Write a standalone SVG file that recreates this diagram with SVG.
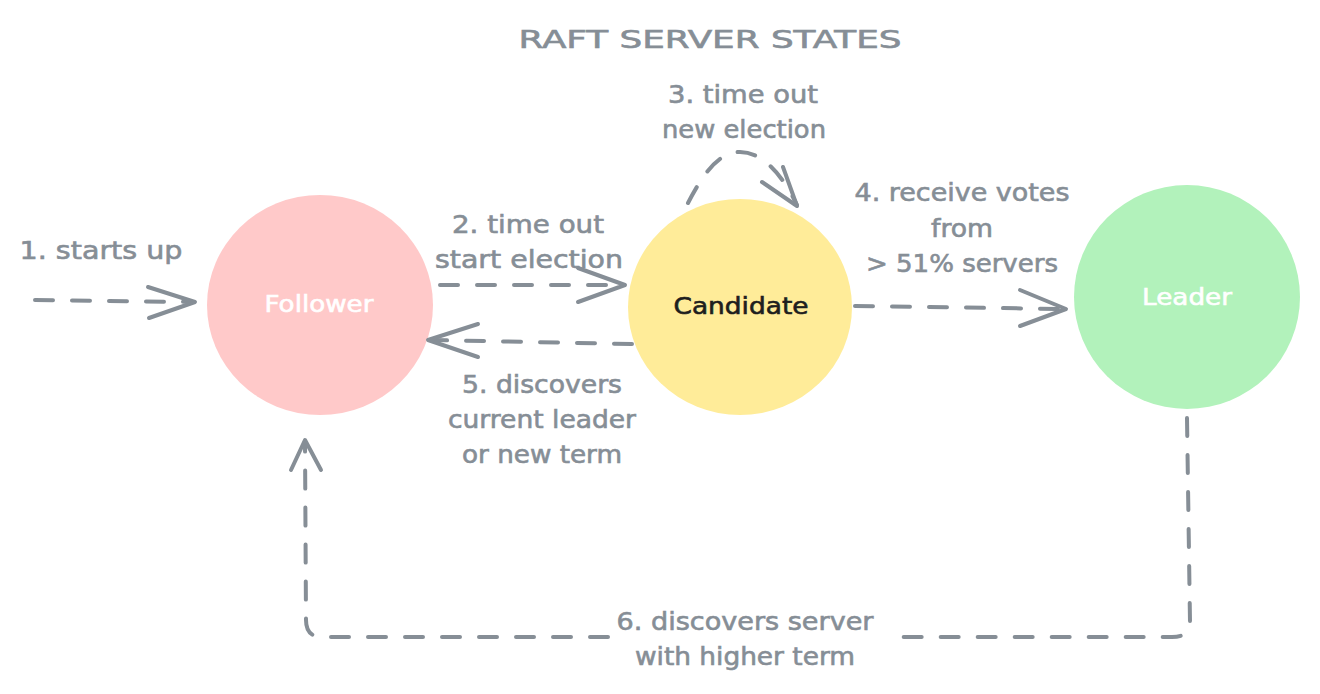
<svg xmlns="http://www.w3.org/2000/svg" width="1320" height="694" viewBox="0 0 1320 694">
<style>
.lbl{font-family:"DejaVu Sans","Liberation Sans",sans-serif;font-size:24px;fill:#868e96;stroke:#868e96;stroke-width:0.6;text-anchor:middle}
.node{font-family:"DejaVu Sans","Liberation Sans",sans-serif;font-size:23px;stroke-width:0.6;text-anchor:middle}
.ln{fill:none;stroke:#868e96;stroke-width:4;stroke-linecap:round;stroke-linejoin:round}
.dash{stroke-dasharray:18 19}
</style>
<rect width="1320" height="694" fill="#ffffff"/>
<text x="710" y="48" class="lbl" font-size="28" stroke-width="1" textLength="383" lengthAdjust="spacingAndGlyphs">RAFT SERVER STATES</text>
<g id="follower">
<ellipse cx="320" cy="305" rx="113" ry="110" fill="#ffc9c9"/>
<text x="319" y="312" class="node" fill="#ffffff" stroke="#ffffff" textLength="109" lengthAdjust="spacingAndGlyphs">Follower</text>
</g>
<g id="candidate">
<ellipse cx="740" cy="307" rx="112" ry="108" fill="#ffec99"/>
<text x="741" y="314" class="node" fill="#1e1e1e" stroke="#1e1e1e" textLength="135" lengthAdjust="spacingAndGlyphs">Candidate</text>
</g>
<g id="leader">
<ellipse cx="1187" cy="297" rx="113" ry="112" fill="#b2f2bb"/>
<text x="1187" y="305" class="node" fill="#ffffff" stroke="#ffffff" textLength="90" lengthAdjust="spacingAndGlyphs">Leader</text>
</g>
<g id="connectors">
<path class="ln dash" d="M35 300 L193 302"/>
<path class="ln" d="M148 287 L195 302 L149 318"/>
<path class="ln dash" d="M440 285 L623 285"/>
<path class="ln" d="M578 268 L625 285 L578 302"/>
<path class="ln dash" d="M632 344 L430 340"/>
<path class="ln" d="M478 324 L428 340 L478 357"/>
<path class="ln dash" d="M688 203 C705 170 720 152 740 152 C765 152 785 180 797 205"/>
<path class="ln" d="M762 182 L797 206 L783 167"/>
<path class="ln dash" d="M855 306 L1064 309"/>
<path class="ln" d="M1020 290 L1066 309 L1020 326"/>
<path class="ln dash" d="M1187 418 L1190 622 Q1190 637 1172 637 L887 637"/>
<path class="ln dash" d="M608 637 L322 637 Q306 637 306 620 L305 442"/>
<path class="ln" d="M291 470 L305 440 L321 470"/>
</g>
<g id="labels">
<text x="101" y="259" class="lbl" textLength="163" lengthAdjust="spacingAndGlyphs">1. starts up</text>
<text x="528" y="233" class="lbl" textLength="152" lengthAdjust="spacingAndGlyphs">2. time out</text>
<text x="529" y="268" class="lbl" textLength="188" lengthAdjust="spacingAndGlyphs">start election</text>
<text x="743" y="103" class="lbl" textLength="150" lengthAdjust="spacingAndGlyphs">3. time out</text>
<text x="744" y="138" class="lbl" textLength="164" lengthAdjust="spacingAndGlyphs">new election</text>
<text x="962" y="201" class="lbl" textLength="215" lengthAdjust="spacingAndGlyphs">4. receive votes</text>
<text x="962" y="237" class="lbl" textLength="62" lengthAdjust="spacingAndGlyphs">from</text>
<text x="962" y="272" class="lbl" textLength="192" lengthAdjust="spacingAndGlyphs">&gt; 51% servers</text>
<text x="542" y="393" class="lbl" textLength="160" lengthAdjust="spacingAndGlyphs">5. discovers</text>
<text x="542" y="428" class="lbl" textLength="188" lengthAdjust="spacingAndGlyphs">current leader</text>
<text x="542" y="463" class="lbl" textLength="160" lengthAdjust="spacingAndGlyphs">or new term</text>
<text x="745" y="630" class="lbl" textLength="257" lengthAdjust="spacingAndGlyphs">6. discovers server</text>
<text x="745" y="665" class="lbl" textLength="220" lengthAdjust="spacingAndGlyphs">with higher term</text>
</g>
</svg>
